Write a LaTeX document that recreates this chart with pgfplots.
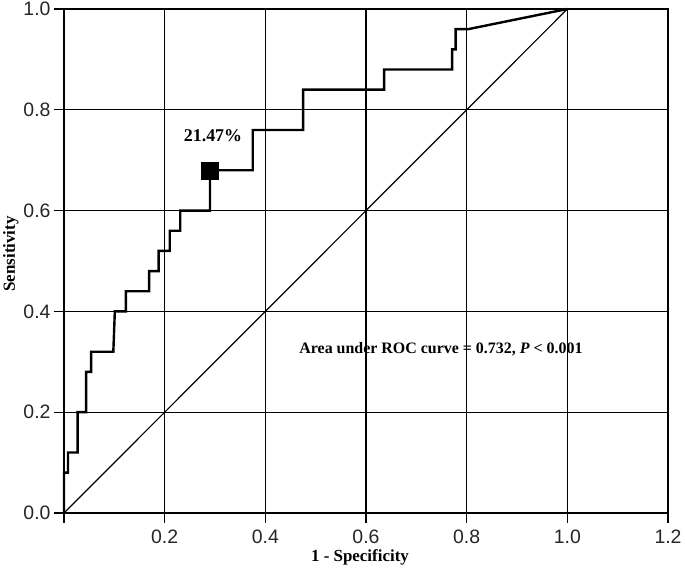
\documentclass[border=0pt]{standalone}
\usepackage{fontspec}
\setmainfont{Liberation Serif}
\newfontfamily\arial{Liberation Sans}
\usepackage{pgfplots}
\pgfplotsset{compat=1.18}
\begin{document}
\begin{tikzpicture}
\begin{axis}[name=ax,
  scale only axis, width=604bp, height=504bp,
  xmin=0, xmax=1.2, ymin=0, ymax=1.0,
  xtick={0,0.2,0.4,0.6,0.8,1.0,1.2},
  xticklabels={,0.2,0.4,0.6,0.8,1.0,1.2},
  ytick={0,0.2,0.4,0.6,0.8,1.0},
  yticklabel style={/pgf/number format/fixed, /pgf/number format/fixed zerofill, /pgf/number format/precision=1},
  /pgf/number format/assume math mode=true,
  tick label style={font=\arial\fontsize{19.5}{19.5}\selectfont, text=black!85},
  xtick pos=lower, ytick pos=left, tick align=outside,
  major tick length=10bp,
  every tick/.style={black, line width=1.3bp},
  xticklabel style={yshift=-3bp},
  grid=major,
  major grid style={black, line width=1.3bp},
  axis line style={black, line width=1.6bp},
  xlabel={\fontsize{17}{17}\selectfont\bfseries 1 - Specificity},
  ylabel={\fontsize{17}{17}\selectfont\bfseries Sensitivity},
  xlabel style={at={(axis description cs:0.49,-0.088)}, anchor=center},
  ylabel style={at={(axis description cs:-0.088,0.514)}, anchor=center},
  clip=false,
]
\addplot[black, line width=1.2bp, forget plot] coordinates {(0,0) (1,1)};
\addplot[black, line width=2.4bp, mark=none] coordinates {
(0,0) (0,0.08) (0.008,0.08) (0.008,0.12) (0.027,0.12) (0.027,0.20)
(0.044,0.20) (0.044,0.28) (0.054,0.28) (0.054,0.32) (0.098,0.32)
(0.101,0.40) (0.123,0.40) (0.123,0.44) (0.169,0.44) (0.169,0.48)
(0.188,0.48) (0.188,0.52) (0.21,0.52) (0.21,0.56) (0.231,0.56)
(0.231,0.60) (0.29,0.60) (0.29,0.68) (0.375,0.68) (0.375,0.76)
(0.475,0.76) (0.475,0.84) (0.636,0.84) (0.636,0.88) (0.771,0.88)
(0.771,0.92) (0.778,0.92) (0.778,0.96) (0.803,0.96) (1,1)};
\addplot[only marks, mark=square*, mark size=8.5bp, black] coordinates {(0.29,0.68)};
\node[font=\fontsize{18}{18}\selectfont\bfseries] at (axis cs:0.296,0.748) {21.47\%};
\node[font=\fontsize{16}{16}\selectfont\bfseries] at (axis cs:0.749,0.325) {Area under ROC curve = 0.732, \textit{P} < 0.001};
\end{axis}
\pgfresetboundingbox
\path ([xshift=-64bp,yshift=-57bp]ax.south west) rectangle ([xshift=17bp,yshift=9bp]ax.north east);
\end{tikzpicture}
\end{document}
